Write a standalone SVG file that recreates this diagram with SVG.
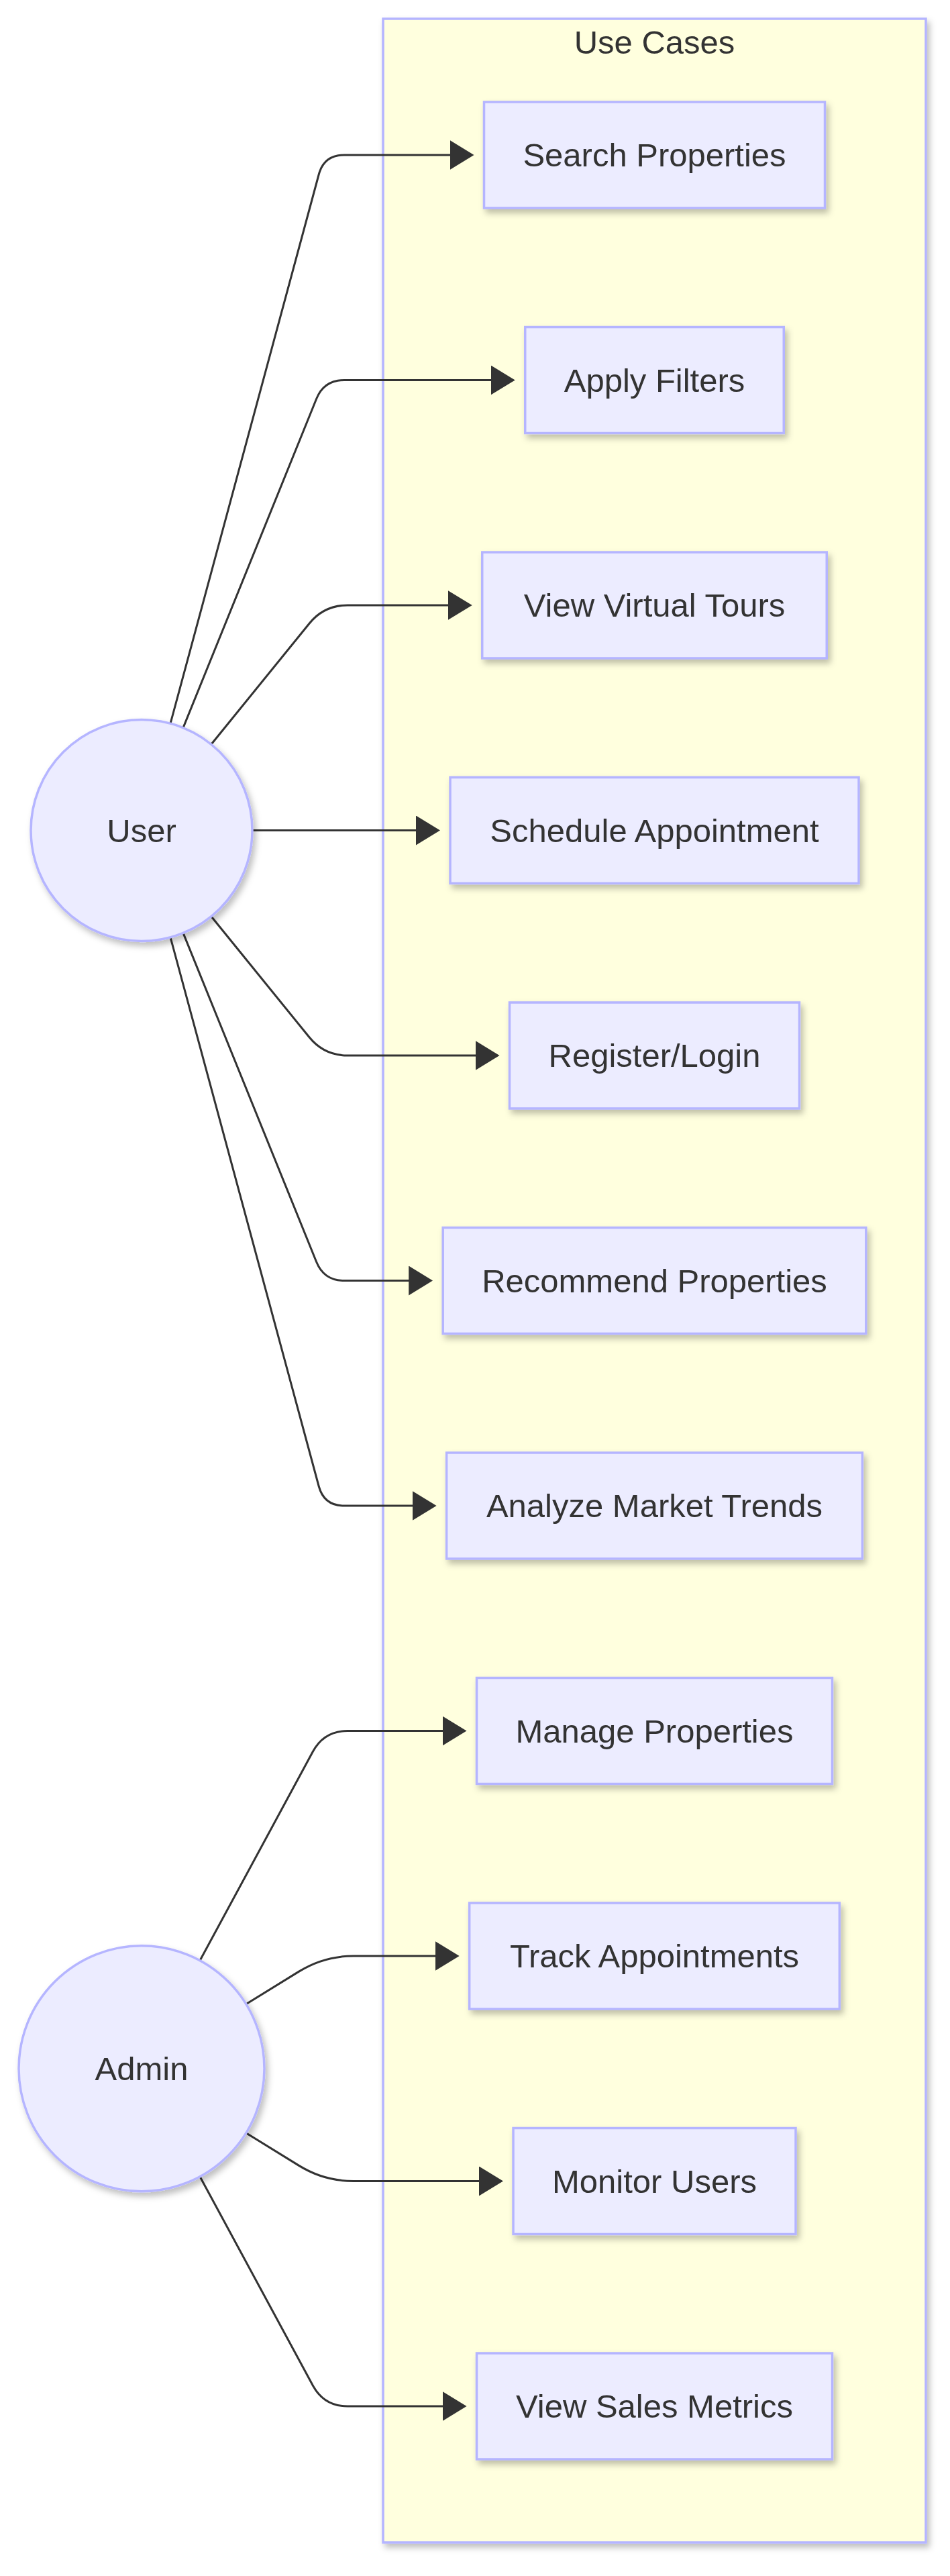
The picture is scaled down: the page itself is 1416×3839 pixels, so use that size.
<svg xmlns="http://www.w3.org/2000/svg" width="1416" height="3839" viewBox="0 0 1416 3839">
<style>
.cluster{fill:#ffffde;stroke:#b5b5ff;stroke-width:3.5}
.node rect,.node circle{fill:#ececff;stroke:#b5b5ff;stroke-width:3.5}
.lbl{font-family:"Liberation Sans",Arial,sans-serif;font-size:49px;fill:#333;text-anchor:middle}
.edge{fill:none;stroke:#333;stroke-width:3}
</style>
<defs>
<filter id="sh" x="-20%" y="-20%" width="140%" height="140%">
<feDropShadow dx="4" dy="6" stdDeviation="5" flood-color="#000" flood-opacity="0.25"/>
</filter>
<marker id="arr" viewBox="0 0 36 44" refX="26" refY="22" markerWidth="36" markerHeight="44" markerUnits="userSpaceOnUse" orient="auto">
<path d="M0,0 L36,22 L0,44 z" fill="#333"/>
</marker>
</defs>
<rect width="1416" height="3839" fill="#fff"/>
<g id="cluster-usecases">
<rect class="cluster" x="571" y="28" width="809" height="3761" filter="url(#sh)"/>
<text class="lbl" x="975.5" y="80">Use Cases</text>
</g>
<g id="edges">
<path class="edge" marker-end="url(#arr)" d="M254,1078.2 L475.2,260 Q483,231 513,231 L696.5,231"/>
<path class="edge" marker-end="url(#arr)" d="M273,1084.6 L471.7,594.3 Q483,566.5 513,566.5 L757.75,566.5"/>
<path class="edge" marker-end="url(#arr)" d="M314.9,1109.3 L461,929.2 Q483,902 518,902 L693.75,902"/>
<path class="edge" marker-end="url(#arr)" d="M376.2,1237.5 L646,1237.5"/>
<path class="edge" marker-end="url(#arr)" d="M314.9,1365.7 L461,1545.8 Q483,1573 518,1573 L734.5,1573"/>
<path class="edge" marker-end="url(#arr)" d="M273,1390.4 L471.7,1880.7 Q483,1908.5 513,1908.5 L635.2,1908.5"/>
<path class="edge" marker-end="url(#arr)" d="M254,1396.8 L475.2,2215 Q483,2244 513,2244 L640.6,2244"/>
<path class="edge" marker-end="url(#arr)" d="M298,2921.8 L466.4,2610.3 Q483,2579.5 518,2579.5 L685.5,2579.5"/>
<path class="edge" marker-end="url(#arr)" d="M366.8,2986.7 L445.6,2938.1 Q483,2915 527,2915 L674.65,2915"/>
<path class="edge" marker-end="url(#arr)" d="M366.8,3178.8 L445.6,3227.4 Q483,3250.5 527,3250.5 L740,3250.5"/>
<path class="edge" marker-end="url(#arr)" d="M298,3243.7 L466.4,3555.2 Q483,3586 518,3586 L685.5,3586"/>
</g>
<g id="node-user" class="node">
<circle cx="211" cy="1237.5" r="165" filter="url(#sh)"/>
<text class="lbl" x="211" y="1254.5">User</text>
</g>
<g id="node-admin" class="node">
<circle cx="211" cy="3082.75" r="183" filter="url(#sh)"/>
<text class="lbl" x="211" y="3099.75">Admin</text>
</g>
<g id="node-search" class="node">
<rect x="721.5" y="152" width="508" height="158" filter="url(#sh)"/>
<text class="lbl" x="975.5" y="248">Search Properties</text>
</g>
<g id="node-filters" class="node">
<rect x="782.75" y="487.5" width="385.5" height="158" filter="url(#sh)"/>
<text class="lbl" x="975.5" y="583.5">Apply Filters</text>
</g>
<g id="node-tours" class="node">
<rect x="718.75" y="823" width="513.5" height="158" filter="url(#sh)"/>
<text class="lbl" x="975.5" y="919">View Virtual Tours</text>
</g>
<g id="node-schedule" class="node">
<rect x="671" y="1158.5" width="609" height="158" filter="url(#sh)"/>
<text class="lbl" x="975.5" y="1254.5">Schedule Appointment</text>
</g>
<g id="node-register" class="node">
<rect x="759.5" y="1494" width="432" height="158" filter="url(#sh)"/>
<text class="lbl" x="975.5" y="1590">Register/Login</text>
</g>
<g id="node-recommend" class="node">
<rect x="660.2" y="1829.5" width="630.6" height="158" filter="url(#sh)"/>
<text class="lbl" x="975.5" y="1925.5">Recommend Properties</text>
</g>
<g id="node-trends" class="node">
<rect x="665.6" y="2165" width="619.8" height="158" filter="url(#sh)"/>
<text class="lbl" x="975.5" y="2261">Analyze Market Trends</text>
</g>
<g id="node-manage" class="node">
<rect x="710.5" y="2500.5" width="530" height="158" filter="url(#sh)"/>
<text class="lbl" x="975.5" y="2596.5">Manage Properties</text>
</g>
<g id="node-track" class="node">
<rect x="699.65" y="2836" width="551.7" height="158" filter="url(#sh)"/>
<text class="lbl" x="975.5" y="2932">Track Appointments</text>
</g>
<g id="node-monitor" class="node">
<rect x="765" y="3171.5" width="421" height="158" filter="url(#sh)"/>
<text class="lbl" x="975.5" y="3267.5">Monitor Users</text>
</g>
<g id="node-sales" class="node">
<rect x="710.5" y="3507" width="530" height="158" filter="url(#sh)"/>
<text class="lbl" x="975.5" y="3603">View Sales Metrics</text>
</g>
</svg>
